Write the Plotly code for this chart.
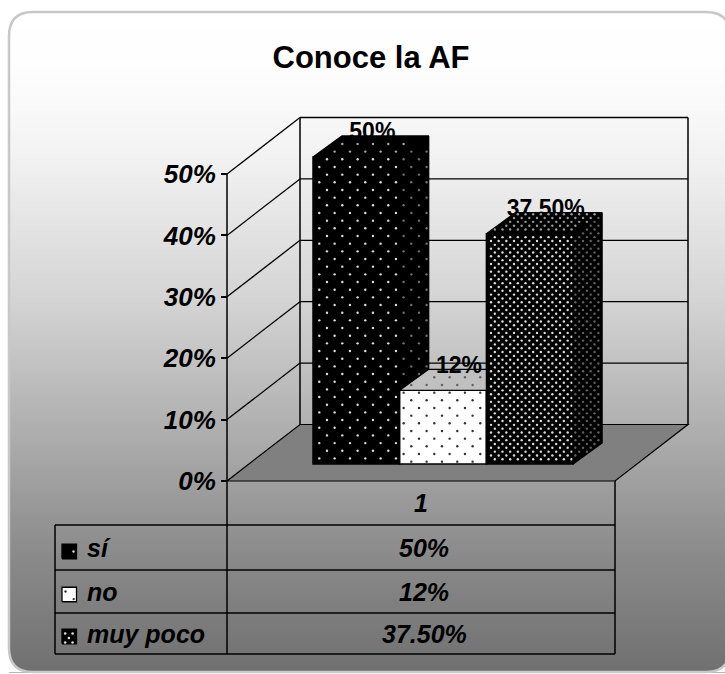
import plotly.graph_objects as go

TITLE = "Conoce la AF"
SERIES = ["sí", "no", "muy poco"]
VALUES = [50, 12, 37.5]
VALUE_LABELS = ["50%", "12%", "37.50%"]
CATEGORY = "1"
TICK_VALUES = [0, 10, 20, 30, 40, 50]
TICK_LABELS = ["0%", "10%", "20%", "30%", "40%", "50%"]

W, H = 725, 674
FONT = "Liberation Sans"
# scale of the value axis and chart geometry (pixels)
PX_PER_UNIT = 6.14
Y0_PX = 481
def u(px):  # pixel length -> value units
    return px / PX_PER_UNIT
def yv(px):  # pixel row -> value
    return (Y0_PX - px) / PX_PER_UNIT
def py(v):  # value -> pixel row
    return Y0_PX - v * PX_PER_UNIT

WALL_L, WALL_R = 227, 615
WALL_DX, WALL_DY = 73, u(56.5)
BAR_LEFT, BAR_W = 313, 86.7
BAR_DX, BAR_DY = 29, u(21)
BAR_BASE = u(17)
TOP_VALUE = 50

# fill brush of each series: lattice spacing/phase in pixels, face colours
STYLES = [
    dict(bg="#000000", fg="#dddddd", dx=15.33, dy=7.67, ax=319.3, ay=182.3, ds=2.4,
         top=dict(bg="#000000", fg="#aaaaaa"), side=dict(bg="#000000", fg="#707070")),
    dict(bg="#ffffff", fg="#333333", dx=15.33, dy=7.67, ax=411.3, ay=400.3, ds=2.4,
         top=dict(bg="#c0c0c0", fg="#606060"), side=dict(bg="#bbbbbb", fg="#333333")),
    dict(bg="#000000", fg="#dddddd", dx=7.67, dy=3.83, ax=491.0, ay=241.0, ds=2.4,
         top=dict(bg="#000000", fg="#999999"), side=dict(bg="#000000", fg="#606060")),
]
KEY_BRUSH = [
    dict(dx=15.3, dy=7.7, ax=73.5, ay=551.5, ds=2.4),
    dict(dx=16.4, dy=7.6, ax=65.5, ay=591.5, ds=2.4),
    dict(dx=7.4, dy=4.5, ax=65.2, ay=633.5, ds=2.6),
]

shapes = []
# gradient panel
stops = [(0, 255), (60, 254), (100, 250), (150, 243), (200, 233), (300, 212), (370, 192),
         (480, 160), (560, 137), (674, 112)]
def grey(y):
    for (a, ca), (b, cb) in zip(stops, stops[1:]):
        if a <= y <= b:
            return round(ca + (cb - ca) * (y - a) / (b - a))
    return 112
PL, PR, PT, PB, RAD = 9, 730, 12, 672, 24
for y in range(PT, PB, 3):
    g = grey(y + 1.5)
    shapes.append(dict(type="rect", layer="below", xref="x", yref="y", x0=PL, x1=PR,
                       y0=yv(y), y1=yv(y + 3.5), fillcolor=f"rgb({g},{g},{g})", line_width=0))
Y = yv
corners = [
    f"M{PL},{Y(PT)} L{PL + RAD},{Y(PT)} Q{PL},{Y(PT)} {PL},{Y(PT + RAD)} Z",
    f"M{PR},{Y(PT)} L{PR - RAD},{Y(PT)} Q{PR},{Y(PT)} {PR},{Y(PT + RAD)} Z",
    f"M{PL},{Y(PB)} L{PL + RAD},{Y(PB)} Q{PL},{Y(PB)} {PL},{Y(PB - RAD)} Z",
    f"M{PR},{Y(PB)} L{PR - RAD},{Y(PB)} Q{PR},{Y(PB)} {PR},{Y(PB - RAD)} Z",
]
for c in corners:
    shapes.append(dict(type="path", layer="below", path=c, fillcolor="white", line_width=0))
border = (f"M{PL + RAD},{Y(PT)} L{PR - RAD},{Y(PT)} Q{PR},{Y(PT)} {PR},{Y(PT + RAD)} "
          f"L{PR},{Y(PB - RAD)} Q{PR},{Y(PB)} {PR - RAD},{Y(PB)} L{PL + RAD},{Y(PB)} "
          f"Q{PL},{Y(PB)} {PL},{Y(PB - RAD)} L{PL},{Y(PT + RAD)} Q{PL},{Y(PT)} {PL + RAD},{Y(PT)} Z")
shapes.append(dict(type="path", layer="below", path=border, fillcolor="rgba(0,0,0,0)",
                   line=dict(color="#c8c8c8", width=2.5)))

def line(x0, y0, x1, y1, color="#000000", width=1.5):
    shapes.append(dict(type="line", layer="below", x0=x0, y0=y0, x1=x1, y1=y1,
                       line=dict(color=color, width=width)))

# floor
bx0, bx1 = WALL_L + WALL_DX, WALL_R + WALL_DX
shapes.append(dict(type="path", layer="below", fillcolor="#808080", line=dict(color="#000000", width=1.2),
                   path=f"M{WALL_L},0 L{WALL_R},0 L{bx1},{WALL_DY} L{bx0},{WALL_DY} Z"))
# walls and gridlines
for v in TICK_VALUES[1:]:
    line(WALL_L, v, bx0, v + WALL_DY, width=1.3)
    line(bx0, v + WALL_DY, bx1, v + WALL_DY, width=1.3)
line(WALL_L, 0, WALL_L, TOP_VALUE)
line(bx0, WALL_DY, bx0, TOP_VALUE + WALL_DY)
line(bx1, WALL_DY, bx1, TOP_VALUE + WALL_DY)
# data table rules
ROWS_PX = [481, 525, 570, 613, 654]
TABLE_L = 55
line(WALL_L, yv(ROWS_PX[0]), WALL_L, yv(ROWS_PX[-1]))
line(WALL_R, yv(ROWS_PX[0]), WALL_R, yv(ROWS_PX[-1]))
line(TABLE_L, yv(ROWS_PX[1]), TABLE_L, yv(ROWS_PX[-1]))
for r in ROWS_PX[1:]:
    line(TABLE_L, yv(r), WALL_R, yv(r))


def inside(px, pyy, pts, pad=1.2):
    """Convex polygon test in pixel space, with a small inset."""
    sign = 0
    n = len(pts)
    for k in range(n):
        x0, y0 = pts[k]
        x1, y1 = pts[(k + 1) % n]
        ex, ey = x1 - x0, y1 - y0
        length = (ex * ex + ey * ey) ** 0.5
        if length == 0:
            continue
        c = (ex * (pyy - y0) - ey * (px - x0)) / length
        if abs(c) < pad:
            return False
        s = 1 if c > 0 else -1
        if sign == 0:
            sign = s
        elif s != sign:
            return False
    return True


def brush_dots(pts_px, b, color):
    """Staggered dot brush of a fill, clipped to a face."""
    xs_ = [p[0] for p in pts_px]
    ys_ = [p[1] for p in pts_px]
    oxs, oys = [], []
    r0 = int((min(ys_) - b["ay"]) // b["dy"]) - 1
    r1 = int((max(ys_) - b["ay"]) // b["dy"]) + 1
    for r in range(r0, r1 + 1):
        yy = b["ay"] + r * b["dy"]
        off = b["dx"] / 2 if r % 2 else 0
        c0 = int((min(xs_) - b["ax"]) // b["dx"]) - 1
        c1 = int((max(xs_) - b["ax"]) // b["dx"]) + 1
        for c in range(c0, c1 + 1):
            xx = b["ax"] + off + c * b["dx"]
            if inside(xx, yy, pts_px):
                oxs.append(xx)
                oys.append(yv(yy))
    return go.Scatter(x=oxs, y=oys, mode="markers", showlegend=False, hoverinfo="skip",
                      marker=dict(symbol="circle", size=b["ds"], color=color, line_width=0))


fig = go.Figure()
centers = [BAR_LEFT + BAR_W * (i + 0.5) for i in range(len(VALUES))]

# front faces
for i, name in enumerate(SERIES):
    s = STYLES[i]
    fig.add_trace(go.Bar(
        x=[centers[i]], y=[VALUES[i]], base=[BAR_BASE], width=BAR_W, name=name, showlegend=False,
        marker=dict(color=s["bg"], line=dict(color="#000000", width=1.5)),
        hoverinfo="skip"))


def label_trace(i):
    font = dict(family=FONT, size=23, color="#000000", weight="bold")
    return go.Scatter(x=[centers[i] + 16], y=[BAR_BASE + VALUES[i] + u(23.5)], mode="text",
                      text=[VALUE_LABELS[i]], textposition="middle center", textfont=font,
                      showlegend=False, hoverinfo="skip")


def poly(xs, ys, bg):
    return go.Scatter(x=xs + xs[:1], y=ys + ys[:1], mode="lines", fill="toself",
                      fillcolor=bg, line=dict(color="#000000", width=1.3),
                      showlegend=False, hoverinfo="skip")


def face(xs, ys, st, s):
    fig.add_trace(poly(xs, ys, st["bg"]))
    fig.add_trace(brush_dots([(a, py(b)) for a, b in zip(xs, ys)], s, st["fg"]))


# labels hidden partly behind the top faces
fig.add_trace(label_trace(0))
fig.add_trace(label_trace(2))

for i, val in enumerate(VALUES):
    s = STYLES[i]
    xl = centers[i] - BAR_W / 2
    xr = centers[i] + BAR_W / 2
    top = BAR_BASE + val
    nxt = VALUES[i + 1] if i + 1 < len(VALUES) else None
    # brush on the front face
    fig.add_trace(brush_dots([(xl, py(top)), (xr, py(top)), (xr, py(BAR_BASE)), (xl, py(BAR_BASE))],
                             s, s["fg"]))
    # right side face: only the part not hidden by the next bar
    low = BAR_BASE if nxt is None else BAR_BASE + nxt
    if low < top:
        face([xr, xr + BAR_DX, xr + BAR_DX, xr],
             [top, top + BAR_DY, low + BAR_DY, low], s["side"], s)
    # top face, cut where the next, taller bar stands in front of it
    if nxt is not None and nxt > val:
        xs = [xl, xr, xr, xl + BAR_DX]
    else:
        xs = [xl, xr, xr + BAR_DX, xl + BAR_DX]
    face(xs, [top, top, top + BAR_DY, top + BAR_DY], s["top"], s)

fig.add_trace(label_trace(1))

# legend keys in the data table
KEY_L, KEY_S = 62, 14.5
row_mid = [(ROWS_PX[i + 1] + ROWS_PX[i + 2]) / 2 for i in range(3)]
KEY_MID = [551.5, 594.5, 636.5]
for i, name in enumerate(SERIES):
    s = STYLES[i]
    ym = yv(KEY_MID[i])
    xs = [KEY_L, KEY_L + KEY_S, KEY_L + KEY_S, KEY_L]
    ys = [ym - u(KEY_S / 2), ym - u(KEY_S / 2), ym + u(KEY_S / 2), ym + u(KEY_S / 2)]
    fig.add_trace(poly(xs, ys, s["bg"]))
    fig.add_trace(brush_dots([(a, py(b)) for a, b in zip(xs, ys)], KEY_BRUSH[i], s["fg"]))

bi = dict(family=FONT, size=25, color="#000000", weight="bold", style="italic")
mid_x = (WALL_L + WALL_R) / 2
ann = [dict(x=mid_x, y=yv((ROWS_PX[0] + ROWS_PX[1]) / 2), text=CATEGORY,
            showarrow=False, font=bi, xanchor="center", yanchor="middle")]
for i, name in enumerate(SERIES):
    ann.append(dict(x=85, y=yv(row_mid[i]), text=name, showarrow=False, font=bi,
                    xanchor="left", yanchor="middle"))
    ann.append(dict(x=mid_x + 3, y=yv(row_mid[i]), text=VALUE_LABELS[i], showarrow=False,
                    font=bi, xanchor="center", yanchor="middle"))

fig.update_layout(
    width=W, height=H, margin=dict(l=0, r=0, t=0, b=0), autosize=False,
    paper_bgcolor="white", plot_bgcolor="rgba(0,0,0,0)",
    title=dict(text=TITLE, x=371 / W, y=1 - 57 / H, xanchor="center", yanchor="middle",
               font=dict(family=FONT, size=31, color="#000000", weight="bold")),
    barmode="overlay", shapes=shapes, annotations=ann, showlegend=False,
    xaxis=dict(range=[0, W], visible=False, fixedrange=True),
    yaxis=dict(range=[yv(H), yv(0)], anchor="free", position=WALL_L / W, showgrid=False, zeroline=False,
               showline=False, tickvals=TICK_VALUES, ticktext=TICK_LABELS, ticks="outside", ticklen=6,
               tickwidth=1.5, tickcolor="#000000", fixedrange=True, automargin=False,
               tickfont=dict(family=FONT, size=26, color="#000000", weight="bold", style="italic")),
)
fig.write_html("out.html", post_script="document.body.style.margin='0';document.body.style.overflow='hidden';",
               config=dict(displayModeBar=False))
